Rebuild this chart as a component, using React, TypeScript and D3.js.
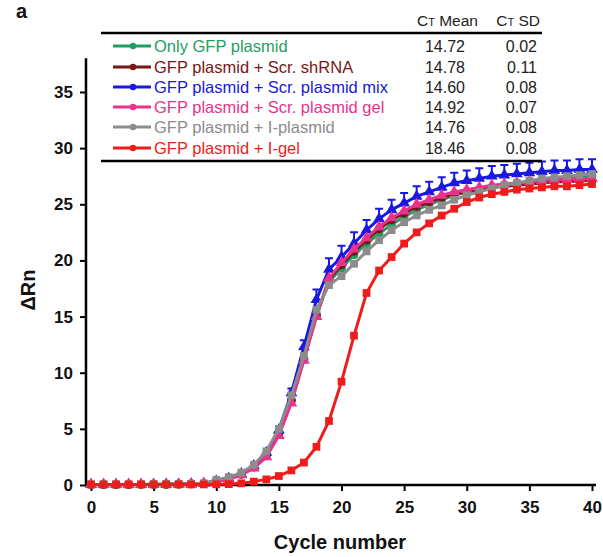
import React, { useRef, useEffect } from "react";
import {
  select,
  scaleLinear,
  line,
  axisBottom,
  axisLeft,
  symbol,
  symbolCircle,
  symbolSquare,
  symbolTriangle,
} from "d3";

// cycle numbers 0..40
const cycles = Array.from({ length: 41 }, (_, i) => i);

const onlyGfp = [0.04, 0.04, 0.04, 0.04, 0.05, 0.05, 0.06, 0.07, 0.09, 0.13, 0.38, 0.6, 1.0, 1.6, 2.7, 4.7, 7.6, 11.3, 15.2, 18.1, 19.3, 20.5, 21.5, 22.4, 23.2, 23.9, 24.5, 25.0, 25.4, 25.8, 26.1, 26.3, 26.5, 26.7, 26.9, 27.0, 27.1, 27.2, 27.3, 27.4, 27.5];
const scrShrna = [0.04, 0.04, 0.04, 0.04, 0.05, 0.05, 0.06, 0.07, 0.09, 0.13, 0.35, 0.55, 0.95, 1.6, 2.6, 4.6, 7.5, 11.2, 15.1, 18.3, 19.6, 20.8, 21.8, 22.8, 23.6, 24.2, 24.8, 25.2, 25.6, 25.9, 26.1, 26.3, 26.5, 26.6, 26.7, 26.8, 26.9, 27.0, 27.0, 27.1, 27.1];
const scrMix = [0.04, 0.04, 0.04, 0.04, 0.05, 0.05, 0.06, 0.07, 0.09, 0.13, 0.35, 0.6, 1.0, 1.7, 2.9, 4.9, 8.2, 12.3, 16.5, 19.2, 20.3, 21.5, 22.7, 23.7, 24.5, 25.1, 25.7, 26.1, 26.5, 26.9, 27.1, 27.3, 27.5, 27.6, 27.7, 27.8, 27.9, 28.0, 28.0, 28.1, 28.1];
const scrMixSd = [0, 0, 0, 0, 0, 0, 0, 0, 0, 0, 0, 0, 0, 0, 0, 0, 0.4, 0.6, 0.9, 1.0, 1.0, 1.0, 0.9, 0.9, 0.9, 0.9, 0.9, 0.9, 0.9, 0.9, 0.9, 0.9, 0.9, 0.9, 0.9, 0.9, 0.9, 0.9, 0.9, 0.9, 0.9];
const scrGel = [0.03, 0.03, 0.03, 0.04, 0.04, 0.05, 0.05, 0.06, 0.08, 0.12, 0.3, 0.5, 0.9, 1.5, 2.5, 4.4, 7.3, 11.1, 15.0, 18.4, 19.8, 21.0, 22.0, 23.0, 23.8, 24.4, 25.0, 25.4, 25.8, 26.1, 26.3, 26.5, 26.7, 26.8, 26.9, 27.0, 27.1, 27.2, 27.2, 27.3, 27.3];
const iPlasmid = [0.05, 0.05, 0.05, 0.05, 0.06, 0.06, 0.07, 0.08, 0.1, 0.15, 0.45, 0.7, 1.1, 1.8, 3.0, 5.0, 8.0, 11.5, 15.6, 17.8, 18.6, 19.7, 20.8, 21.8, 22.7, 23.4, 24.0, 24.5, 24.9, 25.4, 25.8, 26.1, 26.4, 26.7, 26.9, 27.1, 27.3, 27.4, 27.5, 27.6, 27.7];
const iGel = [0.05, 0.05, 0.05, 0.05, 0.05, 0.05, 0.05, 0.05, 0.05, 0.05, 0.06, 0.08, 0.15, 0.3, 0.5, 0.8, 1.3, 2.0, 3.4, 5.7, 9.2, 13.3, 17.1, 19.1, 20.3, 21.5, 22.5, 23.3, 24.0, 24.6, 25.2, 25.6, 25.9, 26.1, 26.3, 26.4, 26.5, 26.6, 26.6, 26.7, 26.8];

const labels = [
  "Only GFP plasmid",
  "GFP plasmid + Scr. shRNA",
  "GFP plasmid + Scr. plasmid mix",
  "GFP plasmid + Scr. plasmid gel",
  "GFP plasmid + I-plasmid",
  "GFP plasmid + I-gel",
];
const ctMean = ["14.72", "14.78", "14.60", "14.92", "14.76", "18.46"];
const ctSd = ["0.02", "0.11", "0.08", "0.07", "0.08", "0.08"];
const colors = ["#1f9e5f", "#7a1515", "#1818e0", "#e8338c", "#8c8c8c", "#f01c1c"];
const seriesValues = [onlyGfp, scrShrna, scrMix, scrGel, iPlasmid, iGel];
const seriesSd = [null, null, scrMixSd, null, null, null];
const shapes = [symbolCircle, symbolCircle, symbolTriangle, symbolTriangle, symbolSquare, symbolSquare];

const xTicks = [0, 5, 10, 15, 20, 25, 30, 35, 40];
const yTicks = [0, 5, 10, 15, 20, 25, 30, 35];

function App() {
  const svgRef = useRef();
  const width = 603;
  const height = 557;

  useEffect(() => {
    const svg = select(svgRef.current);
    svg.selectAll("*").remove();
    const font = "Liberation Sans, Arial, sans-serif";

    const xScale = scaleLinear().domain([0, 40]).range([91, 592]);
    const yScale = scaleLinear().domain([0, 38]).range([485, 58.3]);
    const axisX = xScale(-0.4);

    // axes
    const xAxis = axisBottom(xScale).tickValues(xTicks).tickSize(6).tickSizeOuter(0);
    const gx = svg.append("g").attr("transform", `translate(0, ${yScale(0)})`).call(xAxis);
    gx.select(".domain").remove();
    gx.selectAll(".tick line").attr("stroke", "#000").attr("stroke-width", 2);
    gx.selectAll(".tick text")
      .attr("font-family", font)
      .attr("font-size", 17)
      .attr("font-weight", "bold")
      .attr("fill", "#111")
      .attr("dy", "1.1em");
    svg.append("line")
      .attr("x1", axisX).attr("x2", 596)
      .attr("y1", yScale(0)).attr("y2", yScale(0))
      .attr("stroke", "#000").attr("stroke-width", 2.5);

    const yAxis = axisLeft(yScale).tickValues(yTicks).tickSize(6).tickSizeOuter(0);
    const gy = svg.append("g").attr("transform", `translate(${axisX}, 0)`).call(yAxis);
    gy.select(".domain").remove();
    gy.selectAll(".tick line").attr("stroke", "#000").attr("stroke-width", 2);
    gy.selectAll(".tick text")
      .attr("font-family", font)
      .attr("font-size", 17)
      .attr("font-weight", "bold")
      .attr("fill", "#111")
      .attr("x", -13);
    svg.append("line")
      .attr("x1", axisX).attr("x2", axisX)
      .attr("y1", yScale(38)).attr("y2", yScale(0) + 1)
      .attr("stroke", "#000").attr("stroke-width", 2.5);

    // axis titles
    svg.append("text")
      .attr("x", 340).attr("y", 549)
      .attr("text-anchor", "middle")
      .attr("font-family", font).attr("font-size", 20).attr("font-weight", "bold")
      .attr("fill", "#111")
      .text("Cycle number");
    svg.append("text")
      .attr("transform", "translate(35, 290) rotate(-90)")
      .attr("text-anchor", "middle")
      .attr("font-family", font).attr("font-size", 20).attr("font-weight", "bold")
      .attr("fill", "#111")
      .text("ΔRn");
    svg.append("text")
      .attr("x", 16).attr("y", 18)
      .attr("font-family", font).attr("font-size", 20).attr("font-weight", "bold")
      .attr("fill", "#111")
      .text("a");

    // series
    const lineGenerator = line()
      .x((d, i) => xScale(cycles[i]))
      .y((d) => yScale(d));

    seriesValues.forEach((values, s) => {
      const g = svg.append("g");
      const sd = seriesSd[s];
      if (sd) {
        g.selectAll(".err")
          .data(values)
          .join("path")
          .attr("fill", "none")
          .attr("stroke", colors[s])
          .attr("stroke-width", 2)
          .attr("d", (v, i) => {
            if (!sd[i]) return null;
            const x = xScale(cycles[i]);
            const y0 = yScale(v);
            const y1 = yScale(v + sd[i]);
            return `M${x},${y0}V${y1}M${x - 4},${y1}H${x + 4}`;
          });
      }
      g.append("path")
        .datum(values)
        .attr("fill", "none")
        .attr("stroke", colors[s])
        .attr("stroke-width", 3)
        .attr("d", lineGenerator);
      g.selectAll(".dot")
        .data(values)
        .join("path")
        .attr("fill", colors[s])
        .attr("transform", (v, i) => `translate(${xScale(cycles[i])}, ${yScale(v)})`)
        .attr("d", symbol().type(shapes[s]).size(60));
    });

    // legend table
    const lx0 = 101;
    const lx1 = 542;
    svg.append("line")
      .attr("x1", lx0).attr("x2", lx1).attr("y1", 33).attr("y2", 33)
      .attr("stroke", "#000").attr("stroke-width", 2.5);
    svg.append("line")
      .attr("x1", lx0).attr("x2", lx1).attr("y1", 161).attr("y2", 161)
      .attr("stroke", "#000").attr("stroke-width", 2.5);

    const header = svg.append("g")
      .attr("font-family", font).attr("font-size", 15.5).attr("fill", "#222");
    const h1 = header.append("text").attr("x", 478).attr("y", 26).attr("text-anchor", "end");
    h1.append("tspan").text("C");
    h1.append("tspan").attr("font-size", 11).text("T");
    h1.append("tspan").text(" Mean");
    const h2 = header.append("text").attr("x", 540).attr("y", 26).attr("text-anchor", "end");
    h2.append("tspan").text("C");
    h2.append("tspan").attr("font-size", 11).text("T");
    h2.append("tspan").text(" SD");

    const rowY = [46, 67, 87, 107, 127, 148];
    labels.forEach((label, i) => {
      const y = rowY[i];
      svg.append("line")
        .attr("x1", 113).attr("x2", 151).attr("y1", y).attr("y2", y)
        .attr("stroke", colors[i]).attr("stroke-width", 3);
      svg.append("circle")
        .attr("cx", 133).attr("cy", y).attr("r", 3.2)
        .attr("fill", colors[i]);
      svg.append("text")
        .attr("x", 154).attr("y", y + 6)
        .attr("font-family", font).attr("font-size", 16.5)
        .attr("fill", colors[i])
        .text(label);
      svg.append("text")
        .attr("x", 465).attr("y", y + 6)
        .attr("text-anchor", "end")
        .attr("font-family", font).attr("font-size", 16)
        .attr("fill", "#222")
        .text(ctMean[i]);
      svg.append("text")
        .attr("x", 537).attr("y", y + 6)
        .attr("text-anchor", "end")
        .attr("font-family", font).attr("font-size", 16)
        .attr("fill", "#222")
        .text(ctSd[i]);
    });
  }, []);

  return (
    <div style={{ position: "absolute", left: 0, top: 0 }}>
      <svg ref={svgRef} width={width} height={height} style={{ display: "block", background: "#fff" }} />
    </div>
  );
}

export default App;
